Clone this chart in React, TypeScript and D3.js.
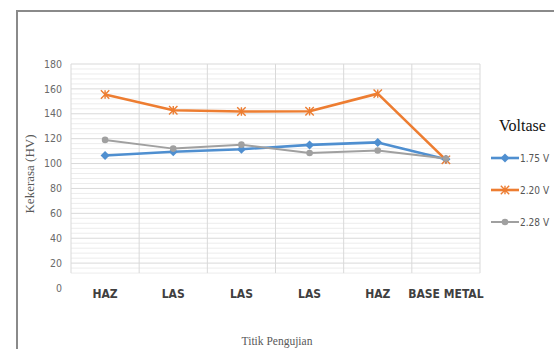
import React from "react";
import * as d3 from "d3";

const categories = ["HAZ", "LAS", "LAS", "LAS", "HAZ", "BASE METAL"];
const v175 = [106.5, 109.5, 111.5, 115, 117, 103.5];
const v220 = [155.5, 142.8, 141.8, 142, 156.2, 103];
const v228 = [119, 112, 115.2, 108.5, 110.5, 104];
const seriesNames = ["1.75 V", "2.20 V", "2.28 V"];
const yTicks = [0, 20, 40, 60, 80, 100, 120, 140, 160, 180];

const colors = ["#4f8fd0", "#ed7d31", "#a0a0a0"];

export default function App() {
  const W = 554, H = 349;
  const x0 = 71, x1 = 480;
  const y = d3.scaleLinear().domain([0, 180]).range([288, 64]);
  const xb = d3.scaleBand<number>().domain(d3.range(categories.length)).range([x0, x1]);
  const cx = (i: number) => (xb(i) as number) + xb.bandwidth() / 2;
  const series = [v175, v220, v228];
  const line = d3.line<number>().x((_, i) => cx(i)).y((d) => y(d));
  const minor = d3.range(12, 180, 4).filter((v) => v % 20 !== 0);
  const gridBottom = y(12);

  const marker = (k: number, px: number, py: number, key: string) => {
    const c = colors[k];
    if (k === 0) {
      const s = 4.5;
      return <path key={key} d={`M${px},${py - s}L${px + s},${py}L${px},${py + s}L${px - s},${py}Z`} fill={c} />;
    }
    if (k === 1) {
      const s = 4.2;
      return (
        <path key={key} d={`M${px - s},${py - s}L${px + s},${py + s}M${px - s},${py + s}L${px + s},${py - s}M${px},${py - s}L${px},${py + s}`} stroke={c} strokeWidth={1.4} fill="none" />
      );
    }
    return <circle key={key} cx={px} cy={py} r={3.3} fill={c} />;
  };

  const legendY = [158, 190, 222];
  const serif = "'Liberation Serif', 'DejaVu Serif', 'Times New Roman', serif";
  const narrow = "'Liberation Sans Narrow', 'DejaVu Sans Condensed', sans-serif";

  return (
    <svg width={W} height={H} style={{ position: "absolute", left: 0, top: 0, background: "#fff" }}>
      <rect x={0} y={0} width={W} height={H} fill="#fff" />
      {/* frame */}
      <line x1={17} y1={11} x2={W} y2={11} stroke="#8a8a8a" strokeWidth={2} />
      <line x1={17} y1={10} x2={17} y2={H} stroke="#8a8a8a" strokeWidth={2} />
      {/* minor grid */}
      {minor.map((v) => (
        <line key={"m" + v} x1={x0} x2={x1} y1={y(v)} y2={y(v)} stroke="#ececec" strokeWidth={1} />
      ))}
      {/* major grid */}
      {yTicks.filter((v) => v > 0).map((v) => (
        <line key={"g" + v} x1={x0} x2={x1} y1={y(v)} y2={y(v)} stroke="#d9d9d9" strokeWidth={1} />
      ))}
      {d3.range(categories.length + 1).map((i) => {
        const xx = i < categories.length ? (xb(i) as number) : x1;
        return <line key={"v" + i} x1={xx} x2={xx} y1={y(180)} y2={gridBottom} stroke="#d9d9d9" strokeWidth={1} />;
      })}
      {/* y tick labels */}
      {yTicks.map((v) => (
        <text key={"t" + v} x={62} y={y(v)} dy="0.35em" textAnchor="end" fontFamily={narrow} fontSize={10.5} fill="#6a6a6a">
          {v}
        </text>
      ))}
      {/* x labels */}
      {categories.map((c, i) => (
        <text key={"x" + i} x={cx(i)} y={298} textAnchor="middle" fontFamily={narrow} fontWeight="bold" fontSize={12} fill="#404040">
          {c}
        </text>
      ))}
      {/* axis titles */}
      <text transform={`translate(34,174) rotate(-90)`} textAnchor="middle" fontFamily={serif} fontSize={13} fill="#595959">
        Kekerasa (HV)
      </text>
      <text x={277} y={345} textAnchor="middle" fontFamily={serif} fontSize={11.5} fill="#595959">
        Titik Pengujian
      </text>
      {/* lines */}
      {series.map((s, k) => (
        <path key={"l" + k} d={line(s) as string} fill="none" stroke={colors[k]} strokeWidth={k === 2 ? 2 : 2.6} strokeLinejoin="round" />
      ))}
      {series.map((s, k) => s.map((v, i) => marker(k, cx(i), y(v), `mk${k}-${i}`)))}
      {/* legend */}
      <text x={499} y={131} fontFamily={serif} fontWeight="normal" fontSize={16} fill="#111">
        Voltase
      </text>
      {seriesNames.map((n, k) => (
        <g key={"lg" + k}>
          <line x1={491} x2={519} y1={legendY[k]} y2={legendY[k]} stroke={colors[k]} strokeWidth={k === 2 ? 2 : 2.6} />
          {marker(k, 505, legendY[k], "lgm" + k)}
          <text x={520} y={legendY[k]} dy="0.35em" fontFamily={narrow} fontSize={10} fill="#555">
            {n}
          </text>
        </g>
      ))}
    </svg>
  );
}
